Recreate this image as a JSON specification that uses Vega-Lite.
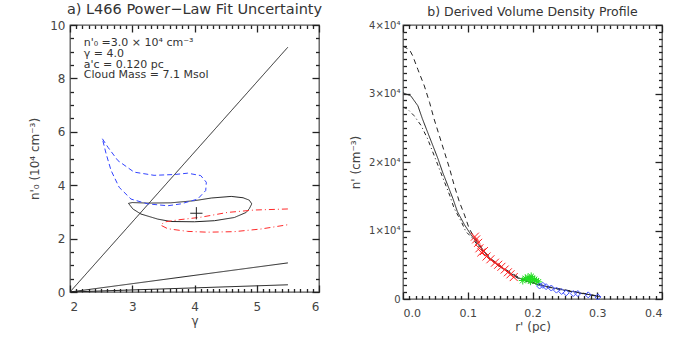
{
  "$schema": "https://vega.github.io/schema/vega-lite/v6.json",
  "background": "white",
  "padding": {"left": 28, "top": 0, "right": 0, "bottom": 0},
  "spacing": 25,
  "resolve": {"scale": {"color": "independent", "strokeDash": "independent"}},
  "config": {
    "view": {"stroke": "#555", "strokeWidth": 1.3},
    "font": "DejaVu Sans",
    "axis": {"grid": false, "domain": false, "labelFont": "DejaVu Sans", "titleFont": "DejaVu Sans", "labelColor": "#444", "titleColor": "#444", "tickColor": "#222", "titleFontWeight": "normal", "tickWidth": 1.3, "labelFontSize": 12, "titleFontSize": 12},
    "title": {"font": "DejaVu Sans", "fontWeight": "normal", "color": "#333"}
  },
  "datasets": {
    "L": [
      {"s": "d1", "i": 0, "x": 2, "y": 0}, {"s": "d1", "i": 1, "x": 5.5, "y": 9.17},
      {"s": "d2", "i": 0, "x": 2, "y": 0}, {"s": "d2", "i": 1, "x": 5.5, "y": 1.09},
      {"s": "d3", "i": 0, "x": 2, "y": 0}, {"s": "d3", "i": 1, "x": 5.5, "y": 0.27},
      {"s": "fit", "i": 0, "x": 2.94, "y": 3.32}, {"s": "fit", "i": 1, "x": 3.0, "y": 3.35}, {"s": "fit", "i": 2, "x": 3.25, "y": 3.33}, {"s": "fit", "i": 3, "x": 3.62, "y": 3.34}, {"s": "fit", "i": 4, "x": 4.0, "y": 3.42}, {"s": "fit", "i": 5, "x": 4.27, "y": 3.52}, {"s": "fit", "i": 6, "x": 4.59, "y": 3.58}, {"s": "fit", "i": 7, "x": 4.78, "y": 3.53}, {"s": "fit", "i": 8, "x": 4.88, "y": 3.44}, {"s": "fit", "i": 9, "x": 4.92, "y": 3.3}, {"s": "fit", "i": 10, "x": 4.88, "y": 3.12}, {"s": "fit", "i": 11, "x": 4.83, "y": 2.98}, {"s": "fit", "i": 12, "x": 4.64, "y": 2.79}, {"s": "fit", "i": 13, "x": 4.32, "y": 2.67}, {"s": "fit", "i": 14, "x": 4.0, "y": 2.63}, {"s": "fit", "i": 15, "x": 3.62, "y": 2.64}, {"s": "fit", "i": 16, "x": 3.41, "y": 2.73}, {"s": "fit", "i": 17, "x": 3.14, "y": 2.92}, {"s": "fit", "i": 18, "x": 3.01, "y": 3.11}, {"s": "fit", "i": 19, "x": 2.94, "y": 3.32},
      {"s": "blue", "i": 0, "x": 2.52, "y": 5.74}, {"s": "blue", "i": 1, "x": 2.61, "y": 5.42}, {"s": "blue", "i": 2, "x": 2.77, "y": 4.92}, {"s": "blue", "i": 3, "x": 3.03, "y": 4.49}, {"s": "blue", "i": 4, "x": 3.35, "y": 4.37}, {"s": "blue", "i": 5, "x": 3.68, "y": 4.4}, {"s": "blue", "i": 6, "x": 3.89, "y": 4.45}, {"s": "blue", "i": 7, "x": 4.1, "y": 4.36}, {"s": "blue", "i": 8, "x": 4.19, "y": 4.11}, {"s": "blue", "i": 9, "x": 4.18, "y": 3.8}, {"s": "blue", "i": 10, "x": 4.05, "y": 3.48}, {"s": "blue", "i": 11, "x": 3.78, "y": 3.3}, {"s": "blue", "i": 12, "x": 3.57, "y": 3.23}, {"s": "blue", "i": 13, "x": 3.25, "y": 3.3}, {"s": "blue", "i": 14, "x": 2.98, "y": 3.48}, {"s": "blue", "i": 15, "x": 2.79, "y": 3.92}, {"s": "blue", "i": 16, "x": 2.66, "y": 4.55}, {"s": "blue", "i": 17, "x": 2.58, "y": 5.18}, {"s": "blue", "i": 18, "x": 2.52, "y": 5.74},
      {"s": "red", "i": 0, "x": 5.5, "y": 3.11}, {"s": "red", "i": 1, "x": 4.96, "y": 3.07}, {"s": "red", "i": 2, "x": 4.53, "y": 2.98}, {"s": "red", "i": 3, "x": 4.1, "y": 2.8}, {"s": "red", "i": 4, "x": 3.73, "y": 2.7}, {"s": "red", "i": 5, "x": 3.51, "y": 2.62}, {"s": "red", "i": 6, "x": 3.46, "y": 2.5}, {"s": "red", "i": 7, "x": 3.57, "y": 2.37}, {"s": "red", "i": 8, "x": 3.89, "y": 2.27}, {"s": "red", "i": 9, "x": 4.21, "y": 2.24}, {"s": "red", "i": 10, "x": 4.64, "y": 2.26}, {"s": "red", "i": 11, "x": 5.07, "y": 2.36}, {"s": "red", "i": 12, "x": 5.5, "y": 2.52}
    ],
    "P": [{"x": 4.03, "y": 2.95}],
    "T": [
      {"x": 2.22, "y": 9.32, "t": "n'₀ =3.0 × 10⁴ cm⁻³"},
      {"x": 2.22, "y": 8.93, "t": "γ = 4.0"},
      {"x": 2.22, "y": 8.52, "t": "a'c = 0.120 pc"},
      {"x": 2.22, "y": 8.12, "t": "Cloud Mass = 7.1 Msol"}
    ],
    "R": [
      {"s": "mid", "r": 0, "n": 30100}, {"s": "mid", "r": 0.012, "n": 29660}, {"s": "mid", "r": 0.023, "n": 28200}, {"s": "mid", "r": 0.03, "n": 26300}, {"s": "mid", "r": 0.038, "n": 24350}, {"s": "mid", "r": 0.046, "n": 22420}, {"s": "mid", "r": 0.054, "n": 20480}, {"s": "mid", "r": 0.061, "n": 18550}, {"s": "mid", "r": 0.069, "n": 16620}, {"s": "mid", "r": 0.077, "n": 14680}, {"s": "mid", "r": 0.084, "n": 12750}, {"s": "mid", "r": 0.095, "n": 10830}, {"s": "mid", "r": 0.105, "n": 9380}, {"s": "mid", "r": 0.115, "n": 8100}, {"s": "mid", "r": 0.125, "n": 6900}, {"s": "mid", "r": 0.136, "n": 5750}, {"s": "mid", "r": 0.147, "n": 4950}, {"s": "mid", "r": 0.157, "n": 4300}, {"s": "mid", "r": 0.168, "n": 3650}, {"s": "mid", "r": 0.178, "n": 3100}, {"s": "mid", "r": 0.19, "n": 2650}, {"s": "mid", "r": 0.2, "n": 2350}, {"s": "mid", "r": 0.224, "n": 1750}, {"s": "mid", "r": 0.24, "n": 1450}, {"s": "mid", "r": 0.26, "n": 1120}, {"s": "mid", "r": 0.28, "n": 760}, {"s": "mid", "r": 0.29, "n": 600}, {"s": "mid", "r": 0.305, "n": 320},
      {"s": "up", "r": 0, "n": 36900}, {"s": "up", "r": 0.01, "n": 36400}, {"s": "up", "r": 0.015, "n": 35500}, {"s": "up", "r": 0.023, "n": 33500}, {"s": "up", "r": 0.033, "n": 31100}, {"s": "up", "r": 0.041, "n": 28700}, {"s": "up", "r": 0.048, "n": 26280}, {"s": "up", "r": 0.056, "n": 23870}, {"s": "up", "r": 0.064, "n": 21450}, {"s": "up", "r": 0.072, "n": 19030}, {"s": "up", "r": 0.079, "n": 16620}, {"s": "up", "r": 0.087, "n": 14200}, {"s": "up", "r": 0.095, "n": 12270}, {"s": "up", "r": 0.102, "n": 10330}, {"s": "up", "r": 0.11, "n": 9000}, {"s": "up", "r": 0.12, "n": 7600}, {"s": "up", "r": 0.136, "n": 5850}, {"s": "up", "r": 0.157, "n": 4400}, {"s": "up", "r": 0.178, "n": 3200}, {"s": "up", "r": 0.2, "n": 2420}, {"s": "up", "r": 0.224, "n": 1800}, {"s": "up", "r": 0.26, "n": 1160}, {"s": "up", "r": 0.29, "n": 640}, {"s": "up", "r": 0.305, "n": 350},
      {"s": "low", "r": 0, "n": 28000}, {"s": "low", "r": 0.007, "n": 27730}, {"s": "low", "r": 0.017, "n": 26770}, {"s": "low", "r": 0.028, "n": 25320}, {"s": "low", "r": 0.038, "n": 23380}, {"s": "low", "r": 0.048, "n": 20970}, {"s": "low", "r": 0.056, "n": 19030}, {"s": "low", "r": 0.064, "n": 17100}, {"s": "low", "r": 0.072, "n": 15170}, {"s": "low", "r": 0.079, "n": 13230}, {"s": "low", "r": 0.09, "n": 11300}, {"s": "low", "r": 0.097, "n": 9860}, {"s": "low", "r": 0.105, "n": 9100}, {"s": "low", "r": 0.115, "n": 7900}, {"s": "low", "r": 0.125, "n": 6800}, {"s": "low", "r": 0.136, "n": 5650}, {"s": "low", "r": 0.157, "n": 4200}, {"s": "low", "r": 0.178, "n": 3000}, {"s": "low", "r": 0.2, "n": 2300}, {"s": "low", "r": 0.224, "n": 1700}, {"s": "low", "r": 0.26, "n": 1080}, {"s": "low", "r": 0.29, "n": 560}, {"s": "low", "r": 0.305, "n": 290}
    ],
    "RED": [
      {"r": 0.111, "n": 9100}, {"r": 0.113, "n": 8700}, {"r": 0.116, "n": 8200}, {"r": 0.118, "n": 7400}, {"r": 0.121, "n": 6800}, {"r": 0.125, "n": 7000}, {"r": 0.129, "n": 6200}, {"r": 0.135, "n": 5800}, {"r": 0.142, "n": 5300}, {"r": 0.147, "n": 5000}, {"r": 0.152, "n": 4700}, {"r": 0.157, "n": 4300}, {"r": 0.162, "n": 3900}, {"r": 0.166, "n": 3600}, {"r": 0.171, "n": 3200}
    ],
    "GREEN": [
      {"r": 0.185, "n": 2700}, {"r": 0.189, "n": 3000}, {"r": 0.193, "n": 3150}, {"r": 0.195, "n": 2850}, {"r": 0.197, "n": 2600}, {"r": 0.198, "n": 3300}, {"r": 0.2, "n": 2950}, {"r": 0.203, "n": 2850}, {"r": 0.206, "n": 2650}, {"r": 0.209, "n": 2500}
    ],
    "BLUE": [
      {"r": 0.211, "n": 1900}, {"r": 0.216, "n": 2000}, {"r": 0.221, "n": 1800}, {"r": 0.229, "n": 1600}, {"r": 0.237, "n": 1300}, {"r": 0.245, "n": 1100}, {"r": 0.252, "n": 900}, {"r": 0.263, "n": 800}, {"r": 0.27, "n": 800}, {"r": 0.286, "n": 600}, {"r": 0.301, "n": 300}
    ]
  },
  "hconcat": [
    {
      "width": 249,
      "height": 267,
      "title": {"text": "a) L466 Power−Law Fit Uncertainty", "fontSize": 14.5, "offset": 2},
      "resolve": {"axis": {"x": "independent", "y": "independent"}},
      "layer": [
        {
          "data": {"name": "L"},
          "mark": {"type": "point", "opacity": 0},
          "encoding": {
            "x": {"field": "x", "type": "quantitative", "scale": {"domain": [2, 6], "nice": false, "zero": false},
              "axis": {"orient": "bottom", "values": [2, 3, 4, 5, 6], "format": "d", "offset": -7, "tickSize": 7, "labelPadding": 9, "title": "γ", "titlePadding": 3}},
            "y": {"field": "y", "type": "quantitative", "scale": {"domain": [0, 10], "nice": false, "zero": false},
              "axis": {"orient": "left", "values": [0, 2, 4, 6, 8, 10], "format": "d", "offset": -7, "tickSize": 7, "labelPadding": 5, "title": "n'₀ (10⁴ cm⁻³)", "titlePadding": 8}}
          }
        },
        {
          "data": {"name": "L"},
          "mark": {"type": "point", "opacity": 0},
          "encoding": {
            "x": {"field": "x", "type": "quantitative",
              "axis": {"orient": "bottom", "values": [2.1, 2.2, 2.3, 2.4, 2.5, 2.6, 2.7, 2.8, 2.9, 3.1, 3.2, 3.3, 3.4, 3.5, 3.6, 3.7, 3.8, 3.9, 4.1, 4.2, 4.3, 4.4, 4.5, 4.6, 4.7, 4.8, 4.9, 5.1, 5.2, 5.3, 5.4, 5.5, 5.6, 5.7, 5.8, 5.9], "labels": false, "offset": -3.5, "tickSize": 3.5, "title": null}},
            "y": {"field": "y", "type": "quantitative",
              "axis": {"orient": "left", "values": [0.5, 1, 1.5, 2.5, 3, 3.5, 4.5, 5, 5.5, 6.5, 7, 7.5, 8.5, 9, 9.5], "labels": false, "offset": -3.5, "tickSize": 3.5, "title": null}}
          }
        },
        {
          "data": {"name": "L"},
          "mark": {"type": "point", "opacity": 0},
          "encoding": {
            "x": {"field": "x", "type": "quantitative",
              "axis": {"orient": "top", "values": [2, 3, 4, 5, 6], "labels": false, "offset": -7, "tickSize": 7, "title": null}},
            "y": {"field": "y", "type": "quantitative",
              "axis": {"orient": "right", "values": [0, 2, 4, 6, 8, 10], "labels": false, "offset": -7, "tickSize": 7, "title": null}}
          }
        },
        {
          "data": {"name": "L"},
          "mark": {"type": "point", "opacity": 0},
          "encoding": {
            "x": {"field": "x", "type": "quantitative",
              "axis": {"orient": "top", "values": [2.1, 2.2, 2.3, 2.4, 2.5, 2.6, 2.7, 2.8, 2.9, 3.1, 3.2, 3.3, 3.4, 3.5, 3.6, 3.7, 3.8, 3.9, 4.1, 4.2, 4.3, 4.4, 4.5, 4.6, 4.7, 4.8, 4.9, 5.1, 5.2, 5.3, 5.4, 5.5, 5.6, 5.7, 5.8, 5.9], "labels": false, "offset": -3.5, "tickSize": 3.5, "title": null}},
            "y": {"field": "y", "type": "quantitative",
              "axis": {"orient": "right", "values": [0.5, 1, 1.5, 2.5, 3, 3.5, 4.5, 5, 5.5, 6.5, 7, 7.5, 8.5, 9, 9.5], "labels": false, "offset": -3.5, "tickSize": 3.5, "title": null}}
          }
        },
        {
          "data": {"name": "L"},
          "mark": {"type": "line", "strokeWidth": 1, "clip": true},
          "encoding": {
            "x": {"field": "x", "type": "quantitative", "axis": null},
            "y": {"field": "y", "type": "quantitative", "axis": null},
            "detail": {"field": "s"},
            "order": {"field": "i"},
            "color": {"field": "s", "type": "nominal", "legend": null, "scale": {"domain": ["d1", "d2", "d3", "fit", "blue", "red"], "range": ["#222222", "#222222", "#222222", "#222222", "#3344ff", "#ff2a2a"]}},
            "strokeDash": {"field": "s", "type": "nominal", "legend": null, "scale": {"domain": ["d1", "d2", "d3", "fit", "blue", "red"], "range": [[1, 0], [1, 0], [1, 0], [1, 0], [5, 3], [6, 3, 1, 3]]}}
          }
        },
        {
          "data": {"name": "P"},
          "mark": {"type": "point", "shape": "M-1,0H1M0,-1V1", "filled": false, "stroke": "#222", "strokeWidth": 1, "size": 150, "opacity": 1},
          "encoding": {
            "x": {"field": "x", "type": "quantitative", "axis": null},
            "y": {"field": "y", "type": "quantitative", "axis": null}
          }
        },
        {
          "data": {"name": "T"},
          "mark": {"type": "text", "align": "left", "baseline": "middle", "fontSize": 11, "color": "#333", "font": "DejaVu Sans"},
          "encoding": {
            "x": {"field": "x", "type": "quantitative", "axis": null},
            "y": {"field": "y", "type": "quantitative", "axis": null},
            "text": {"field": "t"}
          }
        }
      ]
    },
    {
      "width": 259,
      "height": 274,
      "title": {"text": "b) Derived Volume Density Profile", "fontSize": 12.5, "offset": 2},
      "resolve": {"axis": {"x": "independent", "y": "independent"}},
      "layer": [
        {
          "data": {"name": "R"},
          "mark": {"type": "point", "opacity": 0},
          "encoding": {
            "x": {"field": "r", "type": "quantitative", "scale": {"domain": [0, 0.4], "nice": false, "zero": false},
              "axis": {"orient": "bottom", "values": [0, 0.1, 0.2, 0.3, 0.4], "format": ".1f", "offset": -7, "tickSize": 7, "labelPadding": 8, "labelFontSize": 11, "title": "r' (pc)", "titlePadding": 3}},
            "y": {"field": "n", "type": "quantitative", "scale": {"domain": [0, 40000], "nice": false, "zero": false},
              "axis": {"orient": "left", "values": [0, 10000, 20000, 30000, 40000], "labelExpr": "datum.value == 0 ? '0' : format(datum.value/10000, 'd') + '×10⁴'", "offset": -7, "tickSize": 7, "labelPadding": 3, "labelFontSize": 10, "title": "n' (cm⁻³)", "titlePadding": 6}}
          }
        },
        {
          "data": {"name": "R"},
          "mark": {"type": "point", "opacity": 0},
          "encoding": {
            "x": {"field": "r", "type": "quantitative",
              "axis": {"orient": "bottom", "values": [0.01, 0.02, 0.03, 0.04, 0.05, 0.06, 0.07, 0.08, 0.09, 0.11, 0.12, 0.13, 0.14, 0.15, 0.16, 0.17, 0.18, 0.19, 0.21, 0.22, 0.23, 0.24, 0.25, 0.26, 0.27, 0.28, 0.29, 0.31, 0.32, 0.33, 0.34, 0.35, 0.36, 0.37, 0.38, 0.39], "labels": false, "offset": -3.5, "tickSize": 3.5, "title": null}},
            "y": {"field": "n", "type": "quantitative",
              "axis": {"orient": "left", "values": [1000, 2000, 3000, 4000, 5000, 6000, 7000, 8000, 9000, 11000, 12000, 13000, 14000, 15000, 16000, 17000, 18000, 19000, 21000, 22000, 23000, 24000, 25000, 26000, 27000, 28000, 29000, 31000, 32000, 33000, 34000, 35000, 36000, 37000, 38000, 39000], "labels": false, "offset": -3.5, "tickSize": 3.5, "title": null}}
          }
        },
        {
          "data": {"name": "R"},
          "mark": {"type": "point", "opacity": 0},
          "encoding": {
            "x": {"field": "r", "type": "quantitative",
              "axis": {"orient": "top", "values": [0, 0.1, 0.2, 0.3, 0.4], "labels": false, "offset": -7, "tickSize": 7, "title": null}},
            "y": {"field": "n", "type": "quantitative",
              "axis": {"orient": "right", "values": [0, 10000, 20000, 30000, 40000], "labels": false, "offset": -7, "tickSize": 7, "title": null}}
          }
        },
        {
          "data": {"name": "R"},
          "mark": {"type": "point", "opacity": 0},
          "encoding": {
            "x": {"field": "r", "type": "quantitative",
              "axis": {"orient": "top", "values": [0.01, 0.02, 0.03, 0.04, 0.05, 0.06, 0.07, 0.08, 0.09, 0.11, 0.12, 0.13, 0.14, 0.15, 0.16, 0.17, 0.18, 0.19, 0.21, 0.22, 0.23, 0.24, 0.25, 0.26, 0.27, 0.28, 0.29, 0.31, 0.32, 0.33, 0.34, 0.35, 0.36, 0.37, 0.38, 0.39], "labels": false, "offset": -3.5, "tickSize": 3.5, "title": null}},
            "y": {"field": "n", "type": "quantitative",
              "axis": {"orient": "right", "values": [1000, 2000, 3000, 4000, 5000, 6000, 7000, 8000, 9000, 11000, 12000, 13000, 14000, 15000, 16000, 17000, 18000, 19000, 21000, 22000, 23000, 24000, 25000, 26000, 27000, 28000, 29000, 31000, 32000, 33000, 34000, 35000, 36000, 37000, 38000, 39000], "labels": false, "offset": -3.5, "tickSize": 3.5, "title": null}}
          }
        },
        {
          "data": {"name": "R"},
          "mark": {"type": "line", "strokeWidth": 1, "color": "#222"},
          "encoding": {
            "x": {"field": "r", "type": "quantitative", "axis": null},
            "y": {"field": "n", "type": "quantitative", "axis": null},
            "detail": {"field": "s"},
            "strokeDash": {"field": "s", "type": "nominal", "legend": null, "scale": {"domain": ["up", "mid", "low"], "range": [[5, 4], [1, 0], [4, 3, 1, 3]]}}
          }
        },
        {
          "data": {"name": "RED"},
          "mark": {"type": "point", "shape": "M-1,-1L1,1M1,-1L-1,1", "filled": false, "stroke": "#ff2020", "strokeWidth": 1, "size": 64, "opacity": 1},
          "encoding": {
            "x": {"field": "r", "type": "quantitative", "axis": null},
            "y": {"field": "n", "type": "quantitative", "axis": null}
          }
        },
        {
          "data": {"name": "GREEN"},
          "mark": {"type": "point", "shape": "M-1,0L1,0M0,-1L0,1M-0.7,-0.7L0.7,0.7M0.7,-0.7L-0.7,0.7", "filled": false, "stroke": "#22dd22", "strokeWidth": 1, "size": 64, "opacity": 1},
          "encoding": {
            "x": {"field": "r", "type": "quantitative", "axis": null},
            "y": {"field": "n", "type": "quantitative", "axis": null}
          }
        },
        {
          "data": {"name": "BLUE"},
          "mark": {"type": "point", "shape": "diamond", "filled": false, "stroke": "#4455ff", "strokeWidth": 1, "size": 36, "opacity": 1},
          "encoding": {
            "x": {"field": "r", "type": "quantitative", "axis": null},
            "y": {"field": "n", "type": "quantitative", "axis": null}
          }
        }
      ]
    }
  ]
}
